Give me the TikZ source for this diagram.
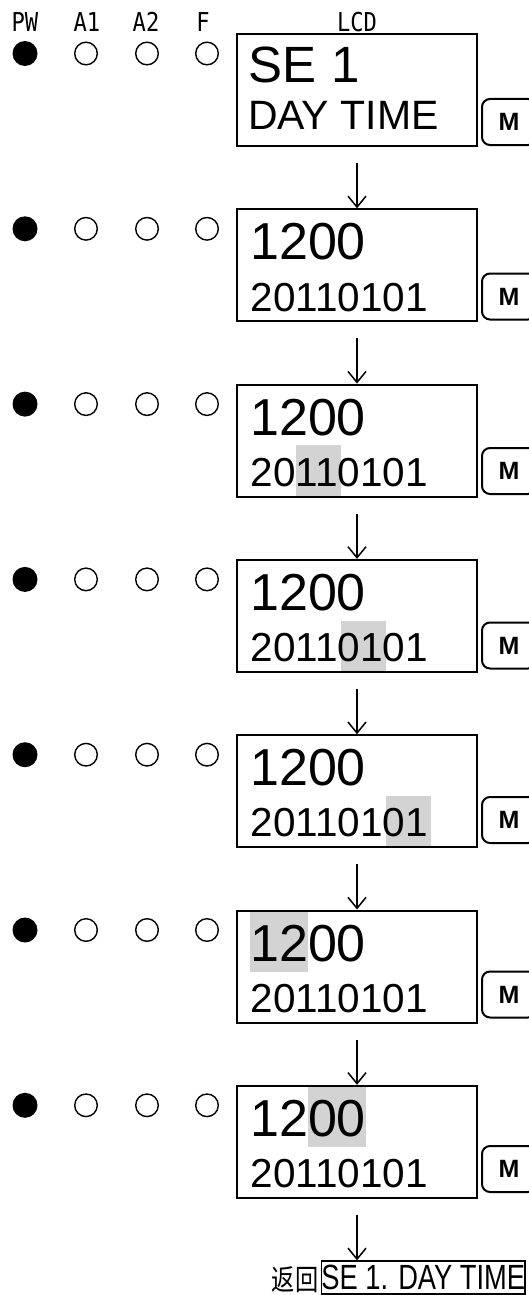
\documentclass[tikz,border=0pt]{standalone}
\usepackage{graphicx}
\usepackage{fontspec}
\setmainfont{Liberation Sans}
\newfontfamily\labfont{DejaVu Sans Mono}
\newfontfamily\cjkfont{Noto Sans CJK SC}
\usetikzlibrary{arrows.meta}
\definecolor{hlgray}{RGB}{211,211,211}
\newcommand\fsSE{\fontsize{51}{51}\selectfont}
\newcommand\fsDT{\fontsize{41}{41}\selectfont}
\newcommand\fsTM{\fontsize{52}{52}\selectfont}
\newcommand\fsDA{\fontsize{40.5}{40.5}\selectfont}
\newcommand\fsLab{\labfont\fontsize{26}{26}\selectfont}
\newcommand\labtxt[1]{\scalebox{0.85}[1]{#1}}
\begin{document}
\begin{tikzpicture}[x=1pt,y=-1pt,
  lcd/.style={draw, line width=2pt, minimum width=240pt, minimum height=112pt, inner sep=0pt},
  mbtn/.style={draw, line width=2pt, rounded corners=8pt, minimum width=54pt, minimum height=46pt, inner sep=0pt, font=\fontsize{25}{25}\selectfont\bfseries},
  ledon/.style={circle, fill=black, minimum size=25pt, inner sep=0pt},
  ledoff/.style={circle, draw, line width=1.4pt, minimum size=22.6pt, inner sep=0pt},
  arr/.style={-{Straight Barb[length=11pt,width=18pt]}, line width=1.5pt},
  txt/.style={anchor=base west, inner sep=0pt},
  lab/.style={anchor=base, inner sep=0pt, font=\fsLab},
  hl/.style={fill=hlgray}
]
\useasboundingbox (0,0) rectangle (528,1295);

% header labels
\node[lab] (hPW) at (25,32) {\labtxt{PW}};
\node[lab] (hA1) at (87,32) {\labtxt{A1}};
\node[lab] (hA2) at (146,32) {\labtxt{A2}};
\node[lab] (hF) at (203,32) {\labtxt{F}};
\node[lab] (hLCD) at (357,32) {\labtxt{LCD}};

% highlights
\fill[hl] (295.5,445.3) rectangle (340.6,496.6);
\fill[hl] (340.6,620.6) rectangle (385.6,671.9);
\fill[hl] (385.6,795.9) rectangle (430.7,847.2);
\fill[hl] (250,910.5) rectangle (307.8,972);
\fill[hl] (307.8,1085.8) rectangle (365.7,1147.3);

% texts
\node[txt] (t0a) at (248.7,82.7) {\fsSE SE 1};
\node[txt] (t0b) at (247.8,130) {\fsDT DAY TIME};
\node[txt] (t1a) at (250,259.8) {\fsTM 1200};
\node[txt] (t1b) at (250.5,311) {\fsDA 20110101};
\node[txt] (t2a) at (250,435.1) {\fsTM 1200};
\node[txt] (t2b) at (250.5,486.3) {\fsDA 20110101};
\node[txt] (t3a) at (250,610.4) {\fsTM 1200};
\node[txt] (t3b) at (250.5,661.6) {\fsDA 20110101};
\node[txt] (t4a) at (250,785.7) {\fsTM 1200};
\node[txt] (t4b) at (250.5,836.9) {\fsDA 20110101};
\node[txt] (t5a) at (250,961) {\fsTM 1200};
\node[txt] (t5b) at (250.5,1012.2) {\fsDA 20110101};
\node[txt] (t6a) at (250,1136.3) {\fsTM 1200};
\node[txt] (t6b) at (250.5,1187.5) {\fsDA 20110101};

% rows: boxes, LEDs, M buttons
\foreach \k in {0,...,6} {
  \pgfmathsetmacro\T{34+175.3*\k}
  \pgfmathsetmacro\Bc{\T+56}
  \pgfmathsetmacro\Dy{\T+19.5}
  \pgfmathsetmacro\My{\T+88-0.8*\k}
  \node[lcd] (lcd\k) at (357,\Bc) {};
  \node[ledon] (pw\k) at (25,\Dy) {};
  \node[ledoff] (aa\k) at (86,\Dy) {};
  \node[ledoff] (ab\k) at (147,\Dy) {};
  \node[ledoff] (ff\k) at (207,\Dy) {};
  \node[mbtn] (m\k) at (509,\My) {M};
}

% arrows
\foreach \k [evaluate=\k as \n using int(\k+1)] in {0,...,5}
  \draw[arr] ([yshift=-16pt]lcd\k.south) -- (lcd\n.north);

% return
\node[draw, line width=1.8pt, minimum width=203pt, minimum height=33pt, inner sep=0pt] (ret) at (423.3,1277.7)
  {\fontsize{35}{35}\selectfont\scalebox{0.78}[1]{SE 1. DAY TIME}};
\node[anchor=base east, inner sep=0pt] (back) at (318.5,1290)
  {\cjkfont\fontsize{29}{29}\selectfont\scalebox{0.8}[1]{返回}};
\draw[arr] ([yshift=-16pt]lcd6.south) -- (lcd6.south |- ret.north);
\end{tikzpicture}
\end{document}
